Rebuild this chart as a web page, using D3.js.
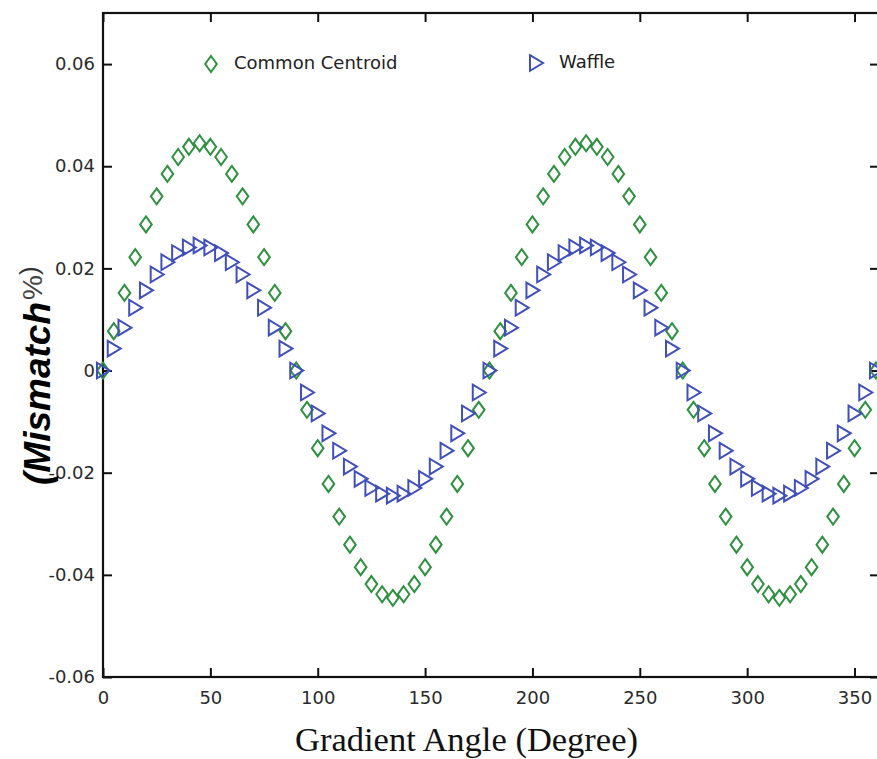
<!DOCTYPE html>
<html>
<head>
<meta charset="utf-8">
<script src="https://cdn.jsdelivr.net/npm/d3@7"></script>
<style>
  body { margin: 0; background: #fff; }
  svg { display: block; }
  .tick text { font-family: "DejaVu Sans", sans-serif; font-size: 18px; fill: #2a2a2a; }
</style>
</head>
<body>
<div id="chart"></div>
<script>
// gradient angle (degree)
var angles = [0, 5, 10, 15, 20, 25, 30, 35, 40, 45, 50, 55, 60, 65, 70, 75, 80, 85, 90,
  95, 100, 105, 110, 115, 120, 125, 130, 135, 140, 145, 150, 155, 160, 165, 170, 175, 180,
  185, 190, 195, 200, 205, 210, 215, 220, 225, 230, 235, 240, 245, 250, 255, 260, 265, 270,
  275, 280, 285, 290, 295, 300, 305, 310, 315, 320, 325, 330, 335, 340, 345, 350, 355, 360];

// mismatch %
var commonCentroid = [0, 0.0077, 0.0152, 0.0222, 0.0286, 0.0341, 0.0385, 0.0418, 0.0438, 0.0445,
  0.0438, 0.0418, 0.0385, 0.0341, 0.0286, 0.0222, 0.0152, 0.0077, 0,
  -0.0077, -0.0152, -0.0222, -0.0286, -0.0341, -0.0385, -0.0418, -0.0438, -0.0445,
  -0.0438, -0.0418, -0.0385, -0.0341, -0.0286, -0.0222, -0.0152, -0.0077, 0,
  0.0077, 0.0152, 0.0222, 0.0286, 0.0341, 0.0385, 0.0418, 0.0438, 0.0445,
  0.0438, 0.0418, 0.0385, 0.0341, 0.0286, 0.0222, 0.0152, 0.0077, 0,
  -0.0077, -0.0152, -0.0222, -0.0286, -0.0341, -0.0385, -0.0418, -0.0438, -0.0445,
  -0.0438, -0.0418, -0.0385, -0.0341, -0.0286, -0.0222, -0.0152, -0.0077, 0];

var waffle = [0, 0.0043, 0.0084, 0.0123, 0.0157, 0.0188, 0.0212, 0.0230, 0.0241, 0.0245,
  0.0241, 0.0230, 0.0212, 0.0188, 0.0157, 0.0123, 0.0084, 0.0043, 0,
  -0.0043, -0.0084, -0.0123, -0.0157, -0.0188, -0.0212, -0.0230, -0.0241, -0.0245,
  -0.0241, -0.0230, -0.0212, -0.0188, -0.0157, -0.0123, -0.0084, -0.0043, 0,
  0.0043, 0.0084, 0.0123, 0.0157, 0.0188, 0.0212, 0.0230, 0.0241, 0.0245,
  0.0241, 0.0230, 0.0212, 0.0188, 0.0157, 0.0123, 0.0084, 0.0043, 0,
  -0.0043, -0.0084, -0.0123, -0.0157, -0.0188, -0.0212, -0.0230, -0.0241, -0.0245,
  -0.0241, -0.0230, -0.0212, -0.0188, -0.0157, -0.0123, -0.0084, -0.0043, 0];

var xTicks = [0, 50, 100, 150, 200, 250, 300, 350];
var yTicks = [-0.06, -0.04, -0.02, 0, 0.02, 0.04, 0.06];
var yTickLabels = ["-0.06", "-0.04", "-0.02", "0", "0.02", "0.04", "0.06"];

var width = 877, height = 759;
var plotLeft = 103, plotRight = 879, plotTop = 13, plotBottom = 677;

var svg = d3.select("#chart").append("svg")
  .attr("width", width)
  .attr("height", height);

var xScale = d3.scaleLinear().domain([0, 360]).range([plotLeft, 876]);
var yScale = d3.scaleLinear().domain([-0.06, 0.07]).range([plotBottom, plotTop]);

var green = "#2f9040", blue = "#4150b8";

// axes, ticks pointing inward
svg.append("g")
  .attr("transform", "translate(0," + plotBottom + ")")
  .call(d3.axisBottom(xScale).tickValues(xTicks).tickSizeInner(-9).tickSizeOuter(0).tickPadding(14).tickFormat(d3.format("d")));

svg.append("g")
  .attr("transform", "translate(0," + plotTop + ")")
  .call(d3.axisTop(xScale).tickValues(xTicks).tickSizeInner(-9).tickSizeOuter(0).tickFormat(""));

svg.append("g")
  .attr("transform", "translate(" + plotLeft + ",0)")
  .call(d3.axisLeft(yScale).tickValues(yTicks).tickSizeInner(-9).tickSizeOuter(0).tickPadding(8)
    .tickFormat(function(d, i){ return yTickLabels[i]; }));

svg.append("g")
  .attr("transform", "translate(" + plotRight + ",0)")
  .call(d3.axisRight(yScale).tickValues(yTicks).tickSizeInner(-9).tickSizeOuter(0).tickFormat(""));

svg.selectAll(".domain").remove();
svg.selectAll(".tick line").attr("stroke", "#111").attr("stroke-width", 2);

// frame
svg.append("rect")
  .attr("x", plotLeft).attr("y", plotTop)
  .attr("width", plotRight - plotLeft).attr("height", plotBottom - plotTop)
  .attr("fill", "none").attr("stroke", "#111").attr("stroke-width", 2.2);

var diamond = "M0,-8L5.8,0L0,8L-5.8,0Z";
var triangle = "M-6,-7.8L7,0L-6,7.8Z";

svg.append("g").selectAll("path")
  .data(angles)
  .enter().append("path")
  .attr("d", diamond)
  .attr("transform", function(d, i){ return "translate(" + xScale(d) + "," + yScale(commonCentroid[i]) + ")"; })
  .attr("fill", "none").attr("stroke", green).attr("stroke-width", 2);

svg.append("g").selectAll("path")
  .data(angles)
  .enter().append("path")
  .attr("d", triangle)
  .attr("transform", function(d, i){ return "translate(" + xScale(d) + "," + yScale(waffle[i]) + ")"; })
  .attr("fill", "none").attr("stroke", blue).attr("stroke-width", 2);

// legend
var legend = [
  {label: "Common Centroid", shape: diamond, color: green, x: 211, y: 64},
  {label: "Waffle", shape: triangle, color: blue, x: 536, y: 63}
];
legend.forEach(function(l){
  svg.append("path").attr("d", l.shape)
    .attr("transform", "translate(" + l.x + "," + l.y + ")")
    .attr("fill", "none").attr("stroke", l.color).attr("stroke-width", 2);
  svg.append("text")
    .attr("x", l.x + 23).attr("y", l.y + 5)
    .style("font-family", "DejaVu Sans, sans-serif").style("font-size", "18px").style("fill", "#222")
    .text(l.label);
});

// axis titles
svg.append("text")
  .attr("x", 295).attr("y", 751)
  .attr("textLength", 343).attr("lengthAdjust", "spacingAndGlyphs")
  .style("font-family", "Liberation Serif, serif").style("font-size", "33px").style("fill", "#111")
  .text("Gradient Angle (Degree)");

var yTitle = svg.append("text")
  .attr("transform", "translate(50,485) rotate(-90)")
  .style("font-family", "Liberation Sans, Arial, sans-serif").style("fill", "#000");
yTitle.append("tspan").style("font-size", "37px").style("font-weight", "bold").style("font-style", "italic").text("(Mismatch");
yTitle.append("tspan").attr("dy", -8).attr("dx", 2).style("font-size", "28px").style("fill", "#444").text("%");
yTitle.append("tspan").attr("dy", -4).style("font-size", "26px").style("fill", "#333").text(")");
</script>
</body>
</html>
